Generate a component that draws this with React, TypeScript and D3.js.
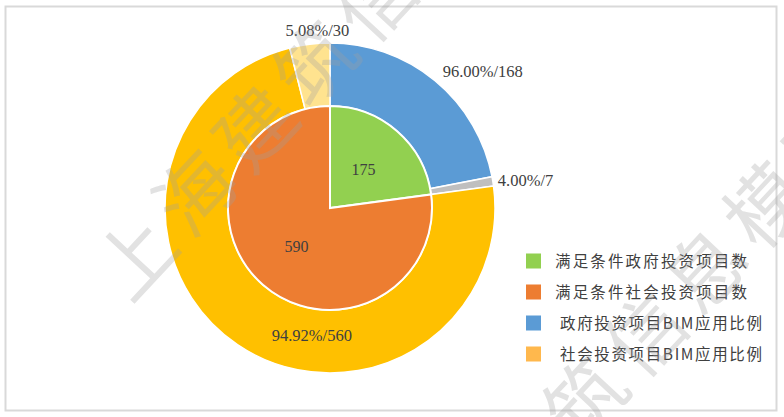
import { useEffect, useRef } from "react";
import * as d3 from "d3";

// inner pie: qualifying projects
const innerLabels = ["满足条件政府投资项目数", "满足条件社会投资项目数"];
const innerValues = [175, 590];
const innerColors = ["#92D050", "#ED7D31"];

// outer ring: BIM application split
const outerValues = [168, 7, 560, 30];
const outerTexts = ["96.00%/168", "4.00%/7", "94.92%/560", "5.08%/30"];
const outerColors = ["#5B9BD5", "#BFBFBF", "#FFC000", "#FFE38F"];

const legendLabels = [...innerLabels, "政府投资项目BIM应用比例", "社会投资项目BIM应用比例"];
const legendColors = [...innerColors, "#5B9BD5", "#FFB84D"];

const watermarkText = "上海建筑信息模型";

export default function App() {
  const ref = useRef<SVGSVGElement>(null);

  useEffect(() => {
    if (!ref.current) return;
    const svg = d3.select(ref.current);
    svg.selectAll("*").remove();

    const width = 784;
    const height = 417;
    svg.attr("width", width).attr("height", height);

    svg.append("rect").attr("width", width).attr("height", height).attr("fill", "#fff");
    svg
      .append("rect")
      .attr("x", 5.5)
      .attr("y", 6.5)
      .attr("width", 771)
      .attr("height", 404)
      .attr("fill", "none")
      .attr("stroke", "#d9d9d9")
      .attr("stroke-width", 2);

    const cx = 330;
    const cy = 208;
    const rInner = 102;
    const rOuter = 165;

    const g = svg.append("g").attr("transform", `translate(${cx},${cy})`);

    const pie = d3.pie<number>().sort(null).value((d) => d);

    // outer ring
    const outerArc = d3.arc<d3.PieArcDatum<number>>().innerRadius(rInner).outerRadius(rOuter);
    const outerArcs = pie(outerValues);
    g.selectAll(".outer")
      .data(outerArcs)
      .enter()
      .append("path")
      .attr("class", "outer")
      .attr("d", outerArc)
      .attr("fill", (_, i) => outerColors[i])
      .attr("stroke", "#fff")
      .attr("stroke-width", 1.5);

    // inner pie
    const innerArc = d3.arc<d3.PieArcDatum<number>>().innerRadius(0).outerRadius(rInner);
    const innerArcs = pie(innerValues);
    g.selectAll(".inner")
      .data(innerArcs)
      .enter()
      .append("path")
      .attr("class", "inner")
      .attr("d", innerArc)
      .attr("fill", (_, i) => innerColors[i])
      .attr("stroke", "#fff")
      .attr("stroke-width", 2);

    const labelFont = "'Liberation Serif', 'Times New Roman', serif";

    g.selectAll(".inner-label")
      .data(innerArcs)
      .enter()
      .append("text")
      .attr("transform", (d) => {
        const [x, y] = innerArc.centroid(d);
        return `translate(${x},${y})`;
      })
      .attr("text-anchor", "middle")
      .attr("dy", "0.35em")
      .attr("font-family", labelFont)
      .attr("font-size", 16)
      .attr("fill", "#404040")
      .text((d) => d.data);

    // outer labels: radius, anchor, angle shift (degrees) per slice
    const labelR = [177, 170, 129, 178];
    const labelAnchor = ["start", "start", "middle", "middle"];
    const labelShift = [0, 0, -26, 3];
    outerArcs.forEach((d, i) => {
      const a = (d.startAngle + d.endAngle) / 2 + (labelShift[i] * Math.PI) / 180;
      const x = Math.sin(a) * labelR[i];
      const y = -Math.cos(a) * labelR[i];
      g.append("text")
        .attr("x", x)
        .attr("y", y)
        .attr("dy", "0.35em")
        .attr("text-anchor", labelAnchor[i])
        .attr("font-family", labelFont)
        .attr("font-size", 16.5)
        .attr("fill", "#404040")
        .text(outerTexts[i]);
    });

    // legend
    const legend = svg.append("g").attr("transform", "translate(526, 261)");
    const textX = [29, 29, 34, 34];
    const textLen = [192, 192, 202, 202];
    legendLabels.forEach((label, i) => {
      const row = legend.append("g").attr("transform", `translate(0, ${i * 31})`);
      row.append("rect").attr("x", 0).attr("y", -7.5).attr("width", 15).attr("height", 15).attr("fill", legendColors[i]);
      row
        .append("text")
        .attr("x", textX[i])
        .attr("dy", "0.36em")
        .attr("font-family", "'Noto Sans CJK SC', sans-serif")
        .attr("font-size", 15.5)
        .attr("textLength", textLen[i])
        .attr("lengthAdjust", "spacing")
        .attr("fill", "#404040")
        .text(label);
    });

    // watermark
    const wm = svg.append("g").attr("pointer-events", "none");
    const wmLines = [
      { x: 130, y: 305 },
      { x: 400, y: 640 },
    ];
    wmLines.forEach((p) => {
      wm.append("text")
        .attr("transform", `translate(${p.x},${p.y}) rotate(-47)`)
        .attr("font-family", "'Noto Sans CJK SC', sans-serif")
        .attr("font-size", 78)
        .attr("letter-spacing", 10)
        .attr("fill", "#a0a0a0")
        .attr("opacity", 0.3)
        .text(watermarkText);
    });
  }, []);

  return <svg ref={ref} style={{ position: "absolute", left: 0, top: 0 }} />;
}
